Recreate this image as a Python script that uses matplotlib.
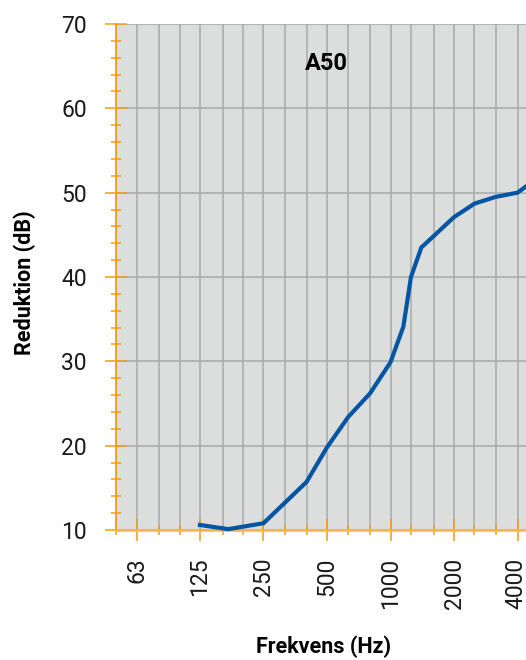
import matplotlib
matplotlib.use("Agg")
import matplotlib.pyplot as plt
import matplotlib.transforms as mtransforms
from matplotlib.ticker import FixedLocator, NullFormatter

# reduction curve
freq = [125, 170, 250, 400, 500, 630, 800, 1000, 1150, 1250, 1400, 2000, 2500, 3150, 4000, 5000]
reduction = [10.6, 10.1, 10.8, 15.7, 19.8, 23.4, 26.2, 29.9, 34.1, 40.0, 43.5, 47.1, 48.7, 49.5, 50.0, 51.8]

octave_ticks = [63, 125, 250, 500, 1000, 2000, 4000]
octave_labels = ["63", "125", "250", "500", "1000", "2000", "4000"]
third_ticks = [50, 80, 100, 160, 200, 315, 400, 630, 800, 1250, 1600, 2500, 3150, 5000]

orange = "#f59d0e"
spine_orange = "#f7b54c"
grid_grey = "#a9a9a9"
line_blue = "#0356a3"

fig = plt.figure(figsize=(5.26, 6.6), dpi=100)
ax = fig.add_axes([116 / 526, 130 / 660, 422 / 526, 506 / 660])
ax.set_facecolor("#dcdddd")

ax.set_xscale("log")
ax.set_xlim(50, 5000)
ax.set_ylim(10, 70)

ax.xaxis.set_major_locator(FixedLocator(octave_ticks))
ax.xaxis.set_minor_locator(FixedLocator(third_ticks))
ax.xaxis.set_minor_formatter(NullFormatter())
ax.set_xticks(octave_ticks)
ax.set_xticklabels(octave_labels, rotation=90, fontsize=16.5,
                   family="Roboto", weight="normal", color="#1a1a1a")

ax.set_yticks(range(10, 71, 10))
ax.yaxis.set_minor_locator(FixedLocator([y for y in range(12, 70, 2) if y % 10]))
ax.set_yticklabels([str(v) for v in range(10, 71, 10)], fontsize=16.5,
                   family="Roboto", weight="normal", color="#1a1a1a")

ax.tick_params(axis="both", which="major", direction="inout", length=15.8,
               width=1.1, color=orange)
ax.tick_params(axis="x", which="major", pad=12)
ax.tick_params(axis="y", which="major", pad=13)
ax.tick_params(axis="both", which="minor", direction="inout", length=7.5,
               width=1.1, color=orange)

# last label sits against the right edge; nudge it in a little
last = ax.get_xticklabels()[-1]
last.set_transform(last.get_transform() +
                   mtransforms.ScaledTranslation(-2 / 100, 0, fig.dpi_scale_trans))

ax.grid(axis="x", which="both", color=grid_grey, linewidth=1.1)
ax.grid(axis="y", which="major", color=grid_grey, linewidth=1.1)
ax.set_axisbelow(True)

for side in ["top", "right"]:
    ax.spines[side].set_visible(False)
ax.spines["left"].set_color(orange)
ax.spines["left"].set_linewidth(1.3)
ax.spines["bottom"].set_color(spine_orange)
ax.spines["bottom"].set_linewidth(1.8)

ax.plot(freq, reduction, color=line_blue, linewidth=3.0, solid_joinstyle="miter",
        clip_on=False, zorder=3)

fig.text(326 / 526, 1 - 63 / 660, "A50", ha="center", va="center",
         fontsize=17, weight="bold", family="Roboto")
fig.text(25 / 526, 1 - 283 / 660, "Reduktion (dB)", rotation=90, ha="center",
         va="center", fontsize=15.5, weight="bold", family="Roboto")
fig.text(324 / 526, 1 - 647 / 660, "Frekvens (Hz)", ha="center", va="center",
         fontsize=15.5, weight="bold", family="Roboto")

fig.savefig("out.png", dpi=100)
